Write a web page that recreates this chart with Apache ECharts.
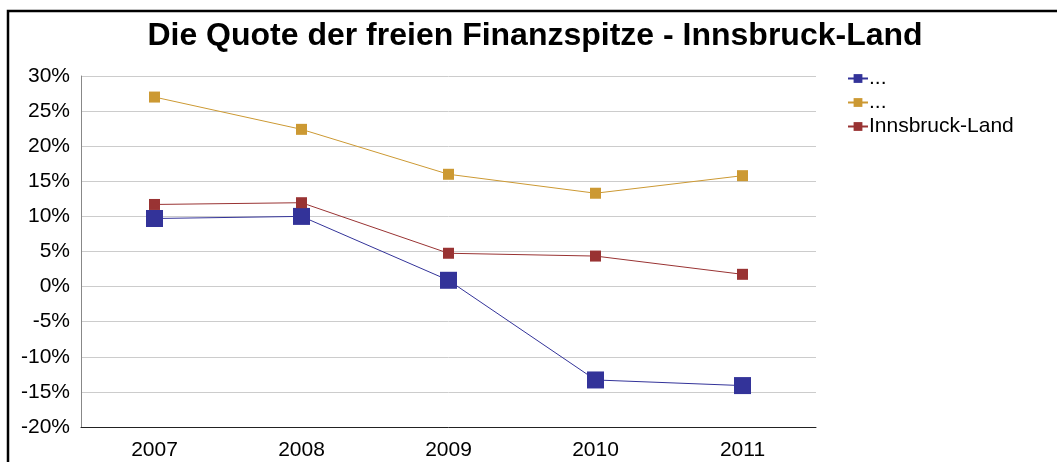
<!DOCTYPE html>
<html>
<head>
<meta charset="utf-8">
<script src="https://cdn.jsdelivr.net/npm/echarts@6/dist/echarts.min.js"></script>
<style>
html,body{margin:0;padding:0;background:#fff;}
#c{width:1057px;height:462px;}
</style>
</head>
<body>
<div id="c"></div>
<script>
const categories = ['2007', '2008', '2009', '2010', '2011'];
const seriesNames = ['...', '...\u200b', 'Innsbruck-Land'];
const blueValues = [9.7, 10.0, 0.9, -13.3, -14.1];
const goldValues = [27.0, 22.4, 16.0, 13.3, 15.8];
const redValues = [11.7, 11.95, 4.75, 4.35, 1.75];

const chart = echarts.init(document.getElementById('c'), null, {renderer: 'canvas'});
const font = 'Liberation Sans, Arial, sans-serif';
function mk(name, data, color, size) {
  return {
    name: name, type: 'line', data: data,
    symbol: 'rect', symbolSize: size,
    lineStyle: {color: color, width: 1},
    itemStyle: {color: color},
    emphasis: {disabled: true},
    animation: false
  };
}
chart.setOption({
  animation: false,
  title: {
    text: 'Die Quote der freien Finanzspitze - Innsbruck-Land',
    left: 530, top: 15, textAlign: 'center',
    textStyle: {fontFamily: font, fontSize: 32, fontWeight: 'bold', color: '#000'}
  },
  legend: {
    orient: 'vertical', left: 842, top: 63,
    itemWidth: 20, itemHeight: 11, itemGap: 3,
    textStyle: {fontFamily: font, fontSize: 21, color: '#000', padding: [2,0,0,-4]}
  },
  grid: {left: 81, top: 76, width: 735, height: 351, containLabel: false},
  xAxis: {
    type: 'category', data: categories, boundaryGap: true,
    axisLine: {onZero: false, lineStyle: {color: '#222', width: 1}},
    axisTick: {show: false},
    axisLabel: {fontFamily: font, fontSize: 21, color: '#000', margin: 13}
  },
  yAxis: {
    type: 'value', min: -20, max: 30, interval: 5,
    axisLine: {show: true, lineStyle: {color: '#888', width: 1}},
    axisTick: {show: false},
    splitLine: {lineStyle: {color: '#cccccc', width: 1}},
    axisLabel: {fontFamily: font, fontSize: 21, color: '#000', margin: 11, formatter: '{value}%'}
  },
  series: [
    mk(seriesNames[0], blueValues, '#333399', 17),
    mk(seriesNames[1], goldValues, '#cc9933', 11),
    mk(seriesNames[2], redValues, '#993333', 11)
  ],
  graphic: [
    {type: 'polyline', shape: {points: [[8, 462], [8, 11], [1057, 11]]},
     style: {stroke: '#000', lineWidth: 2.5, fill: null}, silent: true}
  ]
});
</script>
</body>
</html>
